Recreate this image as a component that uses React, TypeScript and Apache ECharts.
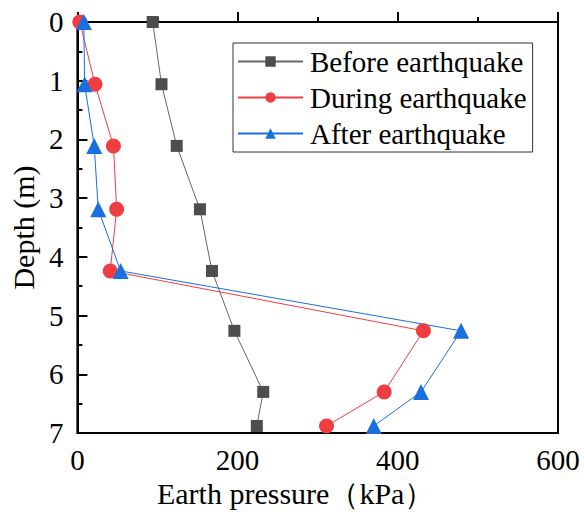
import React, { useEffect, useRef } from "react";
import * as echarts from "echarts";

const depths = [0, 1.06, 2.11, 3.19, 4.24, 5.26, 6.3, 6.88];
const beforeValues = [94, 105, 124, 153, 168, 196, 232, 224];
const duringValues = [3, 22, 45, 49, 41, 432, 383, 311];
const afterValues = [8, 9, 21, 26, 54, 479, 429, 370];
const seriesNames = ["Before earthquake", "During earthquake", "After earthquake"];
const xTicks = [0, 200, 400, 600];

const FONT = "Liberation Serif";

export default function App() {
  const ref = useRef<HTMLDivElement>(null);
  useEffect(() => {
    if (!ref.current) return;
    const chart = echarts.init(ref.current, undefined, { renderer: "svg" });
    const pairs = (vals: number[]) => vals.map((v, i) => [v, depths[i]]);
    chart.setOption({
      animation: false,
      backgroundColor: "#fff",
      grid: {
        left: 77,
        right: 26,
        top: 22,
        bottom: 87,
        show: true,
        borderColor: "#000",
        borderWidth: 2,
        backgroundColor: "transparent",
      },
      legend: {
        orient: "vertical",
        left: 233,
        top: 43,
        padding: [4, 6, 4, 4],
        itemGap: 7,
        itemWidth: 65,
        itemHeight: 13,
        borderColor: "#333",
        borderWidth: 1,
        borderRadius: 0,
        textStyle: { fontFamily: FONT, fontSize: 29, color: "#000", padding: [0, 0, 0, 2] },
        data: seriesNames,
      },
      xAxis: {
        type: "value",
        min: xTicks[0],
        max: xTicks[xTicks.length - 1],
        interval: 200,
        name: "Earth pressure（kPa）",
        nameLocation: "middle",
        nameGap: 31,
        nameTextStyle: { fontFamily: FONT, fontSize: 30, color: "#000", padding: [0, 44, 0, 0] },
        axisLine: { show: true, lineStyle: { color: "#000", width: 2 } },
        axisTick: { inside: true, length: 10, lineStyle: { color: "#000", width: 2 } },
        minorTick: { show: true, splitNumber: 2, length: 5, lineStyle: { color: "#000", width: 2 } },
        axisLabel: { fontFamily: FONT, fontSize: 29, color: "#000", margin: 12 },
        splitLine: { show: false },
      },
      yAxis: {
        type: "value",
        inverse: true,
        min: 0,
        max: 7,
        interval: 1,
        name: "Depth (m)",
        nameLocation: "middle",
        nameRotate: 90,
        nameGap: 38,
        nameTextStyle: { fontFamily: FONT, fontSize: 30, color: "#000" },
        axisLine: { show: true, lineStyle: { color: "#000", width: 2 } },
        axisTick: { inside: true, length: 10, lineStyle: { color: "#000", width: 2 } },
        minorTick: { show: true, splitNumber: 2, length: 5, lineStyle: { color: "#000", width: 2 } },
        axisLabel: { fontFamily: FONT, fontSize: 29, color: "#000", margin: 14 },
        splitLine: { show: false },
      },
      series: [
        {
          name: seriesNames[0],
          type: "line",
          data: pairs(beforeValues),
          symbol: "rect",
          symbolSize: 12,
          itemStyle: { color: "#4d4d4d" },
          lineStyle: { color: "#666", width: 1 },
        },
        {
          name: seriesNames[1],
          type: "line",
          data: pairs(duringValues),
          symbol: "circle",
          symbolSize: 15,
          itemStyle: { color: "#ef3e42" },
          lineStyle: { color: "#ef3e42", width: 1 },
        },
        {
          name: seriesNames[2],
          type: "line",
          data: pairs(afterValues),
          symbol: "triangle",
          symbolSize: 16,
          itemStyle: { color: "#1a6fdf" },
          lineStyle: { color: "#1a6fdf", width: 1 },
        },
      ],
    });
    return () => chart.dispose();
  }, []);
  return (
    <div
      ref={ref}
      style={{ position: "fixed", left: 0, top: 0, width: 584, height: 520, background: "#fff" }}
    />
  );
}
